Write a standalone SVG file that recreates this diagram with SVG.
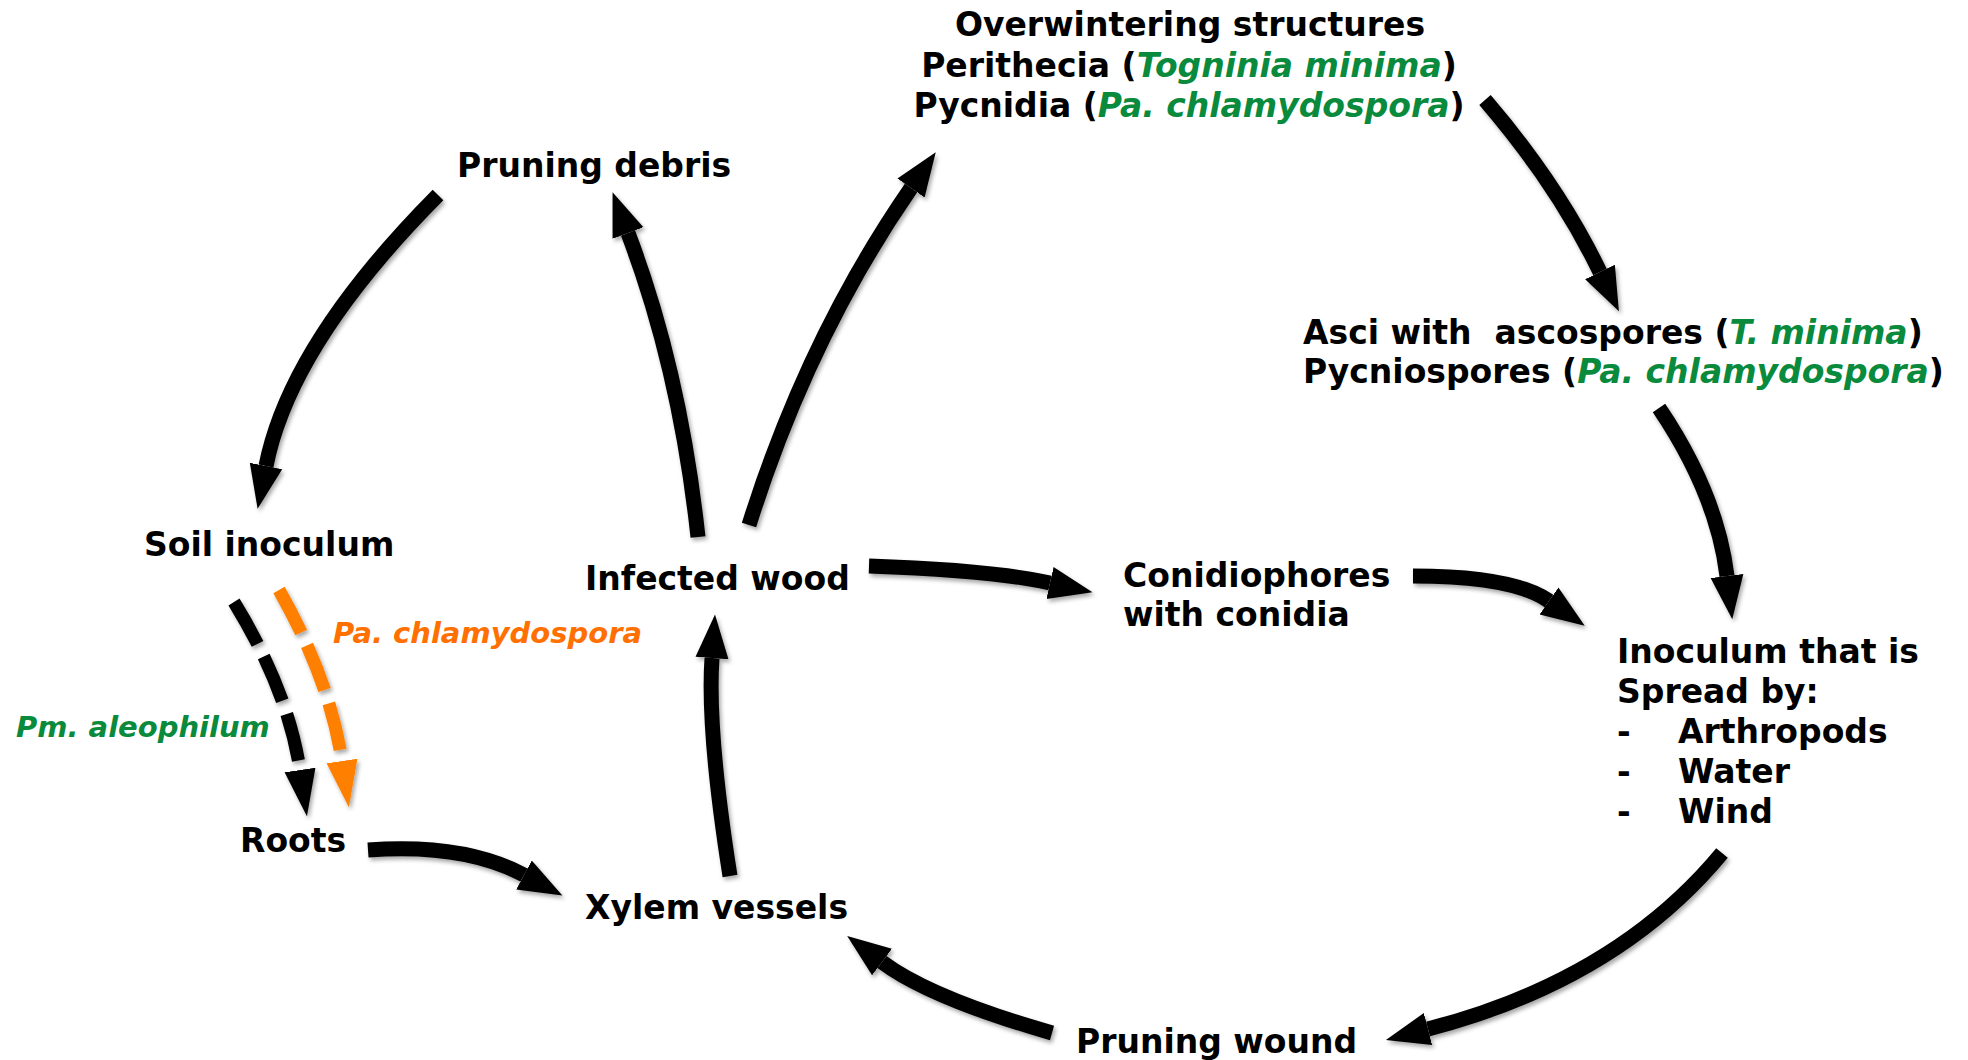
<svg xmlns="http://www.w3.org/2000/svg" width="1968" height="1060" viewBox="0 0 1968 1060">
<style>
text{font-family:"DejaVu Sans",Verdana,sans-serif;font-weight:bold;font-size:33px;fill:#000}
.sp{fill:#0a8a3c;font-style:italic}
.or{fill:#ff7000;font-style:italic}
.lbl{font-size:29px}
.arr{fill:none;stroke:#000;stroke-width:15;marker-end:url(#ah)}
.dk{fill:none;stroke:#000;stroke-width:13;stroke-dasharray:48 14;marker-end:url(#ahd)}
.do{fill:none;stroke:#ff8000;stroke-width:13;stroke-dasharray:48 14;marker-end:url(#aho)}
</style>
<defs>
<filter id="sh" x="-20%" y="-20%" width="140%" height="140%">
<feDropShadow dx="2" dy="3" stdDeviation="2" flood-color="#000" flood-opacity="0.35"/>
</filter>
<marker id="ah" viewBox="0 -2 4 4" markerWidth="4" markerHeight="4" refX="0" refY="0" orient="auto" markerUnits="strokeWidth">
<path d="M0,-1.1 L2.9,0 L0,1.1 Z" fill="#000"/>
</marker>
<marker id="ahd" viewBox="0 -2 5 4" markerWidth="5" markerHeight="4" refX="0" refY="0" orient="auto" markerUnits="strokeWidth">
<path d="M0,-1.2 L3.6,0 L0,1.2 Z" fill="#000"/>
</marker>
<marker id="aho" viewBox="0 -2 5 4" markerWidth="5" markerHeight="4" refX="0" refY="0" orient="auto" markerUnits="strokeWidth">
<path d="M0,-1.2 L3.6,0 L0,1.2 Z" fill="#ff8000"/>
</marker>
</defs>
<rect width="1968" height="1060" fill="#fff"/>

<g id="connectors" filter="url(#sh)">
<path class="arr" d="M438,195 Q290,344 266,466"/>
<path class="arr" d="M698,537 Q680,370 628,233"/>
<path class="arr" d="M749,525 Q808,337 911,188"/>
<path class="arr" d="M1485,100 Q1558,185 1600,272"/>
<path class="arr" d="M1659,408 Q1717,494 1727,576"/>
<path class="arr" d="M1722,853 Q1617,980 1428,1029"/>
<path class="arr" d="M1052,1033 Q930,998 882,962"/>
<path class="arr" d="M730,876 Q707,730 712,658"/>
<path class="arr" d="M368,850 Q464,843 524,875"/>
<path class="arr" d="M869,566 Q991,570 1050,583"/>
<path class="arr" d="M1413,576 Q1513,576 1549,601"/>
<path class="dk" d="M234,602 Q288,690 300,770"/>
<path class="do" d="M279,590 Q330,680 342,761"/>
</g>

<g id="overwintering">
<text x="1190" y="36" text-anchor="middle">Overwintering structures</text>
<text x="1189" y="77" text-anchor="middle">Perithecia (<tspan class="sp">Togninia minima</tspan>)</text>
<text x="1189" y="117" text-anchor="middle">Pycnidia (<tspan class="sp">Pa. chlamydospora</tspan>)</text>
</g>
<g id="pruning-debris"><text x="457" y="177">Pruning debris</text></g>
<g id="asci">
<text x="1303" y="344" style="white-space:pre">Asci with  ascospores (<tspan class="sp">T. minima</tspan>)</text>
<text x="1303" y="383">Pycniospores (<tspan class="sp">Pa. chlamydospora</tspan>)</text>
</g>
<g id="soil-inoculum"><text x="144" y="556">Soil inoculum</text></g>
<g id="infected-wood"><text x="585" y="590">Infected wood</text></g>
<g id="conidiophores">
<text x="1123" y="587">Conidiophores</text>
<text x="1123" y="626">with conidia</text>
</g>
<g id="label-pa"><text class="or lbl" x="333" y="643">Pa. chlamydospora</text></g>
<g id="label-pm"><text class="sp lbl" x="16" y="737">Pm. aleophilum</text></g>
<g id="roots"><text x="240" y="852">Roots</text></g>
<g id="xylem"><text x="585" y="919">Xylem vessels</text></g>
<g id="inoculum-spread">
<text x="1617" y="663">Inoculum that is</text>
<text x="1617" y="703">Spread by:</text>
<text x="1617" y="743">-</text><text x="1678" y="743">Arthropods</text>
<text x="1617" y="783">-</text><text x="1678" y="783">Water</text>
<text x="1617" y="823">-</text><text x="1678" y="823">Wind</text>
</g>
<g id="pruning-wound"><text x="1076" y="1053">Pruning wound</text></g>
</svg>
